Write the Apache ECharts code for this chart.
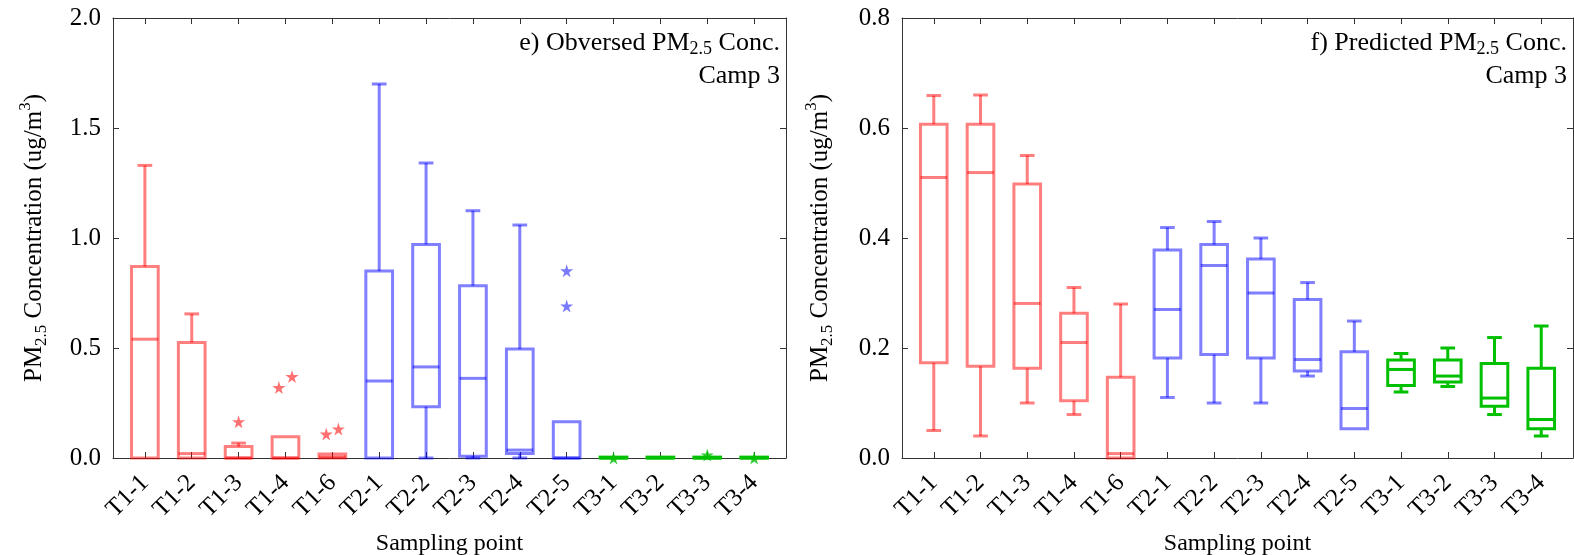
<!DOCTYPE html>
<html>
<head>
<meta charset="utf-8">
<title>PM2.5 Camp 3</title>
<script src="https://cdn.jsdelivr.net/npm/echarts@6/dist/echarts.min.js"></script>
<style>
  html, body { margin: 0; padding: 0; background: #fff; }
  #chart { width: 1574px; height: 555px; }
</style>
</head>
<body>
<div id="chart"></div>
<script>
// sampling points (x axis)
const categories = ['T1-1', 'T1-2', 'T1-3', 'T1-4', 'T1-6', 'T2-1', 'T2-2', 'T2-3', 'T2-4', 'T2-5', 'T3-1', 'T3-2', 'T3-3', 'T3-4'];

// e) observed, each row: [min, q1, median, q3, max]
const observedStats = [
  [0, 0, 0.54, 0.87, 1.33],
  [0, 0, 0.02, 0.525, 0.655],
  [0, 0, 0, 0.052, 0.068],
  [0, 0, 0, 0.097, 0.097],
  [0, 0, 0.005, 0.018, 0.018],
  [0, 0, 0.35, 0.85, 1.70],
  [0, 0.233, 0.414, 0.971, 1.341],
  [0, 0.008, 0.362, 0.783, 1.124],
  [0, 0.02, 0.036, 0.495, 1.059],
  [0, 0, 0, 0.165, 0.165],
  [0, 0, 0, 0.004, 0.004],
  [0, 0, 0, 0.004, 0.004],
  [0, 0, 0, 0.004, 0.004],
  [0, 0, 0, 0.004, 0.004]
];
// observed outliers: category index, jitter (category units), value
const observedOutlierCat = [2, 3, 3, 4, 4, 9, 9, 10, 12, 13];
const observedOutlierJitter = [0, -0.14, 0.14, -0.13, 0.13, 0, 0, 0, 0, 0];
const observedOutlierVal = [0.165, 0.32, 0.37, 0.109, 0.132, 0.851, 0.691, 0, 0.014, 0];

// f) predicted, each row: [min, q1, median, q3, max]
const predictedStats = [
  [0.050, 0.173, 0.510, 0.607, 0.659],
  [0.040, 0.167, 0.519, 0.607, 0.660],
  [0.100, 0.163, 0.281, 0.498, 0.550],
  [0.079, 0.104, 0.210, 0.263, 0.310],
  [0, 0, 0.008, 0.147, 0.280],
  [0.110, 0.182, 0.270, 0.378, 0.419],
  [0.100, 0.188, 0.350, 0.388, 0.430],
  [0.100, 0.182, 0.300, 0.362, 0.400],
  [0.149, 0.158, 0.179, 0.288, 0.319],
  [0.053, 0.053, 0.090, 0.193, 0.249],
  [0.120, 0.132, 0.161, 0.178, 0.190],
  [0.130, 0.138, 0.149, 0.178, 0.200],
  [0.079, 0.094, 0.109, 0.172, 0.219],
  [0.040, 0.053, 0.070, 0.163, 0.240]
];

// y tick labels
const observedTicks = [0, 0.5, 1.0, 1.5, 2.0];
const predictedTicks = [0, 0.2, 0.4, 0.6, 0.8];

const groupColors = { T1: 'rgba(255,0,0,0.5)', T2: 'rgba(0,0,255,0.5)', T3: '#00c000' };
const starColors = { T1: 'rgba(255,0,0,0.7)', T2: 'rgba(0,0,255,0.65)', T3: '#00c000' };
const STAR = 'path://M50,0 L61,35 L98,35 L68,57 L79,91 L50,70 L21,91 L32,57 L2,35 L39,35 Z';
const FONT = '"Liberation Serif", "Times New Roman", serif';
const catIdx = categories.map((c, i) => i);

function boxData(stats) {
  return stats.map((s, i) => [i].concat(s));
}

// one box: rectangle q1..q3, median line, whiskers with half-width caps
function renderBox(params, api) {
  const i = api.value(0);
  const color = groupColors[categories[i].slice(0, 2)];
  const band = api.size([1, 0])[0];
  const hw = band * 0.285, cw = band * 0.157;
  const pt = k => api.coord([i, api.value(k)]);
  const lo = pt(1), q1 = pt(2), md = pt(3), q3 = pt(4), hi = pt(5);
  const x = lo[0];
  const st = () => ({ stroke: color, lineWidth: 3, fill: 'none' });
  const line = (x1, y1, x2, y2) => ({ type: 'line', shape: { x1, y1, x2, y2 }, style: st() });
  const parts = [
    { type: 'rect', shape: { x: x - hw, y: q3[1], width: 2 * hw, height: q1[1] - q3[1] }, style: st() },
    line(x - hw, md[1], x + hw, md[1])
  ];
  if (q3[1] - hi[1] > 0.5) {
    parts.push(line(x, q3[1], x, hi[1]), line(x - cw, hi[1], x + cw, hi[1]));
  }
  if (lo[1] - q1[1] > 0.5) {
    parts.push(line(x, q1[1], x, lo[1]), line(x - cw, lo[1], x + cw, lo[1]));
  }
  return { type: 'group', children: parts };
}

const axisLineStyle = { show: true, onZero: false, lineStyle: { color: '#333', width: 1 } };
const tickStyle = { inside: true, length: 6, lineStyle: { color: '#333' } };
const richName = {
  n: { fontFamily: FONT, fontSize: 25, fontWeight: 'normal', lineHeight: 34, color: '#000' },
  s: { fontFamily: FONT, fontSize: 17, fontWeight: 'normal', lineHeight: 18, padding: [16, 0, 0, 0], verticalAlign: 'top', color: '#000' },
  p: { fontFamily: FONT, fontSize: 17, fontWeight: 'normal', lineHeight: 18, verticalAlign: 'top', color: '#000' }
};
const richTitle = {
  n: { fontFamily: FONT, fontSize: 26, fontWeight: 'normal', lineHeight: 32, color: '#000' },
  s: { fontFamily: FONT, fontSize: 18, fontWeight: 'normal', lineHeight: 18, padding: [13, 0, 0, 0], verticalAlign: 'top', color: '#000' }
};
const campStyle = { fontFamily: FONT, fontSize: 26, lineHeight: 32, fontWeight: 'normal', color: '#000' };

function xAxes(grid) {
  return [
    {
      gridIndex: grid, type: 'value', position: 'bottom', min: -0.68, max: 13.68,
      axisLine: axisLineStyle, splitLine: { show: false },
      axisTick: Object.assign({ customValues: catIdx }, tickStyle),
      axisLabel: {
        customValues: catIdx, rotate: 45, margin: 21, fontFamily: FONT, fontSize: 25, color: '#000',
        formatter: v => categories[Math.round(v)]
      },
      name: 'Sampling point', nameLocation: 'middle', nameGap: 74, nameMoveOverlap: false,
      nameTextStyle: { fontFamily: FONT, fontSize: 24, color: '#000' }
    },
    {
      gridIndex: grid, type: 'value', position: 'top', min: -0.68, max: 13.68,
      axisLine: axisLineStyle, splitLine: { show: false },
      axisTick: Object.assign({ customValues: catIdx }, tickStyle),
      axisLabel: { show: false }
    }
  ];
}

function yAxes(grid, ticks, gap) {
  const step = ticks[1] - ticks[0];
  return [
    {
      gridIndex: grid, type: 'value', position: 'left',
      min: ticks[0], max: ticks[ticks.length - 1], interval: step,
      axisLine: axisLineStyle, axisTick: tickStyle, splitLine: { show: false },
      axisLabel: { margin: 12, fontFamily: FONT, fontSize: 25, color: '#000', formatter: v => v.toFixed(1) },
      name: '{n|PM}{s|2.5}{n| Concentration (ug/m}{p|3}{n|)}',
      nameLocation: 'middle', nameGap: gap, nameMoveOverlap: false,
      nameTextStyle: { rich: richName }
    },
    {
      gridIndex: grid, type: 'value', position: 'right',
      min: ticks[0], max: ticks[ticks.length - 1], interval: step,
      axisLine: axisLineStyle, axisTick: tickStyle, splitLine: { show: false },
      axisLabel: { show: false }
    }
  ];
}

const outlierData = observedOutlierCat.map((c, k) => ({
  value: [c + observedOutlierJitter[k], observedOutlierVal[k]],
  itemStyle: { color: starColors[categories[c].slice(0, 2)] }
}));

const chart = echarts.init(document.getElementById('chart'), null, { renderer: 'canvas' });
chart.setOption({
  animation: false,
  backgroundColor: '#fff',
  title: [
    { text: '{n|e) Obversed PM}{s|2.5}{n| Conc.}', right: 794, top: 27, padding: 0, textStyle: { fontWeight: 'normal', rich: richTitle } },
    { text: 'Camp 3', right: 794, top: 60, padding: 0, textStyle: campStyle },
    { text: '{n|f) Predicted PM}{s|2.5}{n| Conc.}', right: 7, top: 27, padding: 0, textStyle: { fontWeight: 'normal', rich: richTitle } },
    { text: 'Camp 3', right: 7, top: 60, padding: 0, textStyle: campStyle }
  ],
  grid: [
    { left: 113, top: 18, width: 673, height: 440, containLabel: false, outerBoundsMode: 'none' },
    { left: 902, top: 18, width: 671, height: 440, containLabel: false, outerBoundsMode: 'none' }
  ],
  xAxis: xAxes(0).concat(xAxes(1)),
  yAxis: yAxes(0, observedTicks, 62).concat(yAxes(1, predictedTicks, 65)),
  series: [
    {
      type: 'custom', name: 'Observed', xAxisIndex: 0, yAxisIndex: 0, clip: false,
      renderItem: renderBox, encode: { x: 0, y: [1, 2, 3, 4, 5] },
      data: boxData(observedStats)
    },
    {
      type: 'scatter', name: 'Observed outliers', xAxisIndex: 0, yAxisIndex: 0,
      symbol: STAR, symbolSize: 13, data: outlierData
    },
    {
      type: 'custom', name: 'Predicted', xAxisIndex: 2, yAxisIndex: 2, clip: false,
      renderItem: renderBox, encode: { x: 0, y: [1, 2, 3, 4, 5] },
      data: boxData(predictedStats)
    }
  ]
});
</script>
</body>
</html>
